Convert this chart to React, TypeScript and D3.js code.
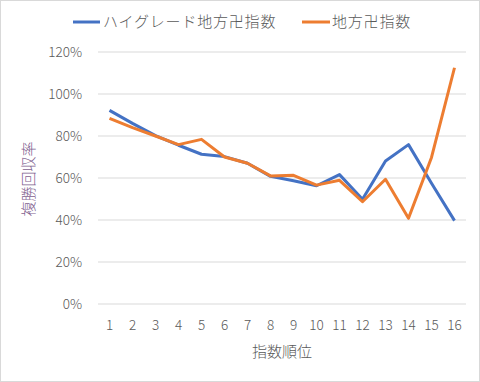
import React from "react";
import * as d3 from "d3";

const categories = ["1","2","3","4","5","6","7","8","9","10","11","12","13","14","15","16"];
const highGrade = [92.2, 86.0, 80.2, 75.6, 71.3, 70.2, 67.0, 60.8, 58.7, 56.3, 61.6, 49.9, 68.1, 75.9, 57.5, 39.7];
const chihou = [88.4, 84.0, 80.0, 75.9, 78.4, 70.0, 67.0, 61.0, 61.3, 56.6, 58.9, 48.7, 59.4, 40.8, 69.8, 112.5];
const yTicks = [0, 20, 40, 60, 80, 100, 120];
const seriesNames = ["ハイグレード地方卍指数", "地方卍指数"];

const W = 480, H = 382;
const font = "'Noto Sans CJK JP', 'Noto Sans', sans-serif";
const textColor = "#595959";

export default function App() {
  const x = d3.scaleBand().domain(categories).range([98, 466]);
  const y = d3.scaleLinear().domain([0, 120]).range([304, 52]);
  const line = d3.line<number>()
    .x((_, i) => (x(categories[i]) as number) + x.bandwidth() / 2)
    .y(d => y(d));
  return (
    <svg width={W} height={H} style={{ position: "absolute", left: 0, top: 0 }} fontFamily={font} fontWeight={300}>
      <rect x={0.5} y={0.5} width={W - 1} height={H - 1} fill="#fff" stroke="#d9d9d9" />
      {yTicks.map(t => (
        <g key={t}>
          <line x1={98} x2={466} y1={y(t)} y2={y(t)} stroke="#d9d9d9" strokeWidth={1} />
          <text x={82} y={y(t)} dy="0.35em" textAnchor="end" fontSize={13.5} fill={textColor}>{t}%</text>
        </g>
      ))}
      {categories.map(c => (
        <text key={c} x={(x(c) as number) + x.bandwidth() / 2} y={325} dy="0.35em" textAnchor="middle" fontSize={13.5} fill={textColor}>{c}</text>
      ))}
      <text x={282} y={352} dy="0.35em" textAnchor="middle" fontSize={15} fill={textColor}>指数順位</text>
      <text transform="translate(29,179) rotate(-90)" dy="0.35em" textAnchor="middle" fontSize={15} fill="#7f5f8f">複勝回収率</text>
      <path d={line(highGrade) || ""} fill="none" stroke="#4472C4" strokeWidth={3} strokeLinejoin="round" />
      <path d={line(chihou) || ""} fill="none" stroke="#ED7D31" strokeWidth={3} strokeLinejoin="round" />
      <line x1={73} x2={100} y1={22} y2={22} stroke="#4472C4" strokeWidth={3} />
      <text x={103} y={22} dy="0.35em" fontSize={15} letterSpacing={0.8} fill={textColor}>{seriesNames[0]}</text>
      <line x1={302} x2={330} y1={22} y2={22} stroke="#ED7D31" strokeWidth={3} />
      <text x={332} y={22} dy="0.35em" fontSize={15} letterSpacing={0.8} fill={textColor}>{seriesNames[1]}</text>
    </svg>
  );
}
